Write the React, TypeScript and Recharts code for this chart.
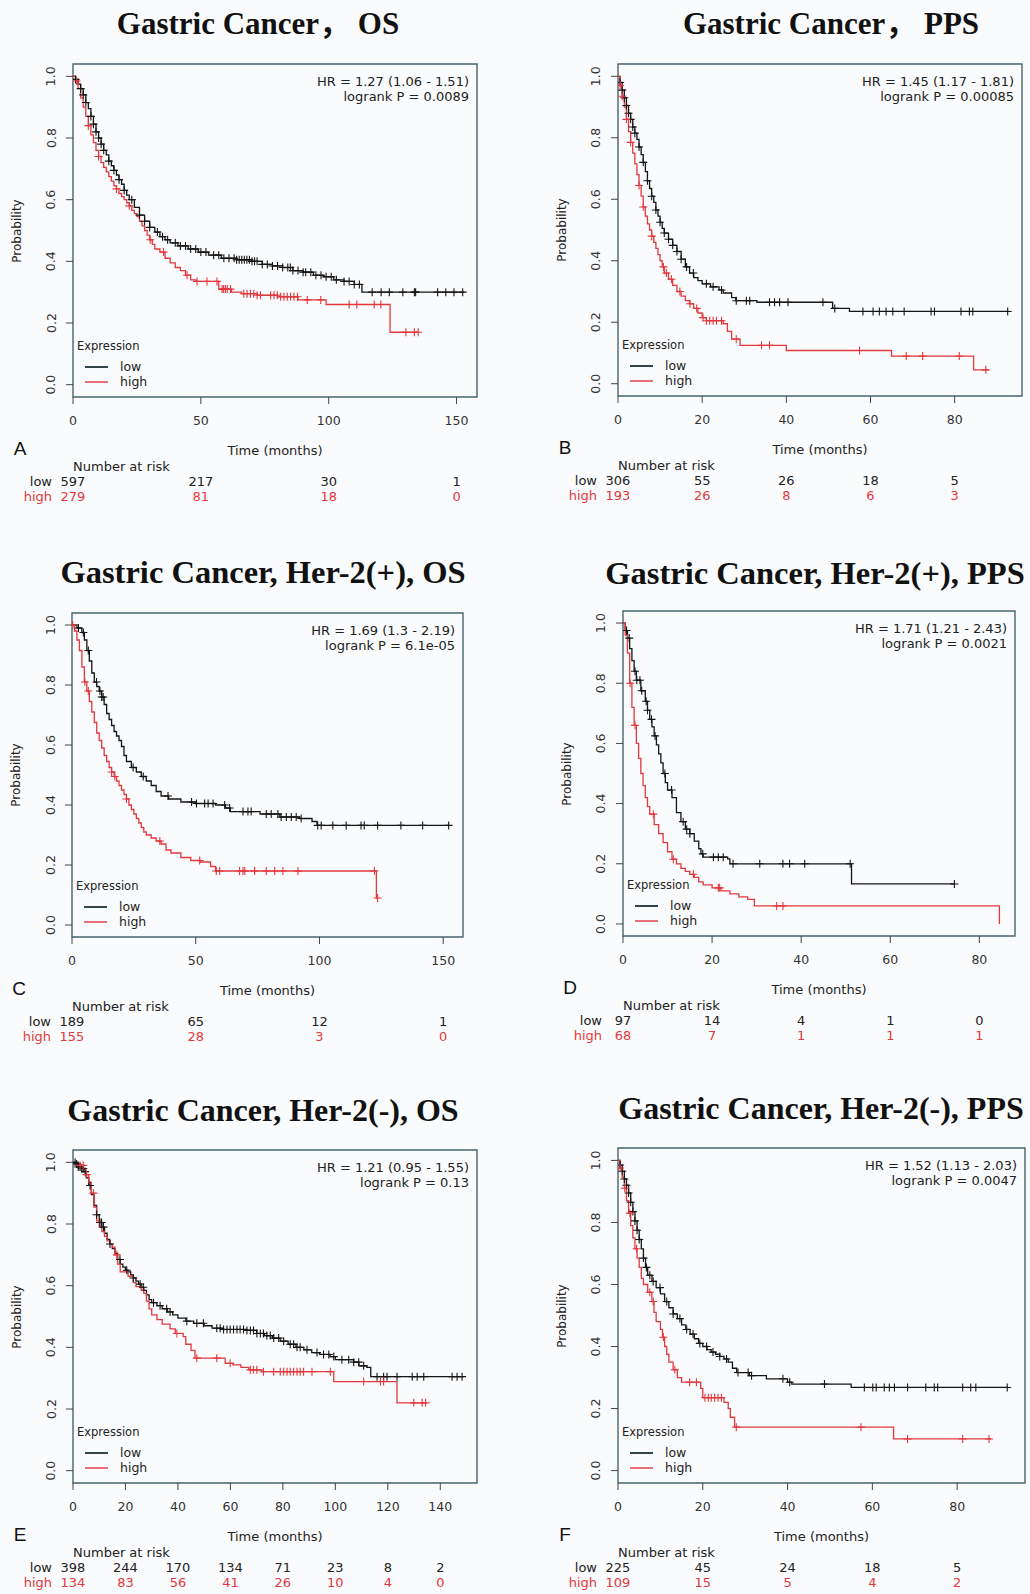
import React from 'react';
import { ComposedChart, Line, XAxis, YAxis, ReferenceArea } from 'recharts';

type Pair = [number, number];

const FONT = "'DejaVu Sans', sans-serif";
const TITLE_FONT = "'Liberation Serif', 'Noto Sans CJK SC', 'Times New Roman', serif";
const RED = '#e2383e';
const BLACK = '#151515';
const BOX = '#46646e';
const Y_TICKS = [0, 0.2, 0.4, 0.6, 0.8, 1.0];
const Y_DOMAIN: [number, number] = [-0.04, 1.04];

// ---- A: Gastric Cancer, OS
const aTicks = [0, 50, 100, 150];
const aRiskLow = [597, 217, 30, 1];
const aRiskHigh = [279, 81, 18, 0];
const aLow: Pair[] = [[0,1],[1,0.99],[2,0.975],[3,0.96],[4,0.94],[5,0.915],[6,0.895],[7,0.87],[8,0.845],[9,0.82],[10,0.8],[11,0.78],[12,0.76],[13,0.745],[14,0.725],[15,0.71],[16,0.695],[17,0.68],[18,0.665],[19,0.65],[20,0.63],[21,0.615],[22,0.6],[24,0.575],[26,0.55],[28,0.53],[30,0.51],[32,0.495],[34,0.48],[36,0.47],[38,0.46],[41,0.45],[45,0.44],[49,0.43],[53,0.42],[58,0.41],[64,0.405],[70,0.4],[74,0.39],[78,0.385],[82,0.38],[86,0.37],[90,0.365],[94,0.355],[98,0.35],[102,0.34],[106,0.335],[110,0.325],[113,0.3],[153,0.3]];
const aHigh: Pair[] = [[0,1],[1,0.985],[2,0.96],[3,0.93],[4,0.9],[5,0.87],[6,0.84],[7,0.81],[8,0.785],[9,0.76],[10,0.74],[11,0.72],[12,0.705],[13,0.69],[14,0.675],[15,0.66],[16,0.645],[17,0.635],[18,0.62],[19,0.61],[20,0.6],[21,0.59],[22,0.58],[23,0.565],[24,0.555],[25,0.545],[26,0.53],[27,0.515],[28,0.5],[29,0.485],[30,0.47],[31,0.455],[32,0.44],[34,0.43],[36,0.41],[38,0.395],[40,0.38],[42,0.37],[44,0.355],[46,0.34],[48,0.335],[57,0.31],[62,0.3],[66,0.295],[72,0.29],[80,0.285],[88,0.275],[99,0.26],[124,0.17],[135,0.17]];
const aLowCens = [1,3,4,5,7,8,9,10,11,12,14,16,18,20,23,26,28,30,33,35,37,40,42,44,46,48,50,52,55,57,59,61,63,64,65,66,67,68,69,70,71,72,74,76,78,80,82,84,85,86,88,90,91,93,95,97,99,101,103,106,108,110,112,117,120.5,123.7,129,133.5,134,142.6,145.8,149,152.4];
const aHighCens = [1.4,6,10,17,22,30.2,35.4,44.6,48.5,52.4,56.3,58.3,58.9,59.6,60.3,61.6,66.8,68.1,69.4,70.7,72,73.3,77.3,78.6,79.9,81.2,82.5,83.8,85.1,86.4,87.8,91.6,96.9,108,111,117.8,120.4,130.2,133.5,135];

// ---- B: Gastric Cancer, PPS
const bTicks = [0, 20, 40, 60, 80];
const bRiskLow = [306, 55, 26, 18, 5];
const bRiskHigh = [193, 26, 8, 6, 3];
const bLow: Pair[] = [[0,1],[0.5,0.98],[1,0.955],[1.5,0.93],[2,0.905],[2.5,0.88],[3,0.86],[3.5,0.835],[4,0.815],[4.5,0.795],[5,0.77],[5.5,0.745],[6,0.72],[6.5,0.69],[7,0.66],[7.5,0.635],[8,0.61],[8.5,0.59],[9,0.565],[9.5,0.545],[10,0.525],[10.5,0.505],[11,0.49],[12,0.47],[13,0.45],[14,0.43],[15,0.405],[16,0.38],[17,0.36],[18,0.345],[19,0.335],[20,0.325],[22,0.315],[24,0.305],[25,0.295],[27,0.28],[28,0.27],[33,0.265],[51,0.245],[55,0.235],[93,0.235]];
const bHigh: Pair[] = [[0,1],[0.5,0.97],[1,0.935],[1.5,0.9],[2,0.86],[2.5,0.82],[3,0.785],[3.5,0.75],[4,0.715],[4.5,0.68],[5,0.645],[5.5,0.61],[6,0.575],[6.5,0.545],[7,0.52],[7.5,0.5],[8,0.48],[8.5,0.46],[9,0.44],[9.5,0.42],[10,0.4],[10.5,0.38],[11,0.36],[12,0.34],[13,0.32],[14,0.3],[15,0.285],[16,0.27],[17,0.26],[18,0.245],[19,0.23],[20,0.215],[21,0.205],[25,0.195],[26,0.17],[27,0.145],[29,0.125],[40,0.108],[65,0.09],[84.5,0.045],[88,0.045]];
const bLowCens = [0.5,1,1.5,2,2.5,3,3.5,4,5,6,7,8,9,10,11,12,13,14,15,16.3,17.9,21,22.6,24.6,28.1,30.5,31.3,36,37.2,38.4,40.4,48.7,51.5,58.2,60.6,62.1,63.7,65.3,68,74.4,75.2,81.5,83.5,84.3,92.6];
const bHighCens = [0.5,1,2,3,5,6,8,10.8,11.5,12.7,14.7,17.1,18.7,20.2,21,21.8,22.6,23.4,24.6,28.1,34.1,36,57.4,68.5,72.4,81.1,87.4];

// ---- C: Her-2(+), OS
const cTicks = [0, 50, 100, 150];
const cRiskLow = [189, 65, 12, 1];
const cRiskHigh = [155, 28, 3, 0];
const cLow: Pair[] = [[0,1],[2,0.99],[4,0.975],[5,0.95],[6,0.915],[7,0.88],[8,0.84],[9,0.81],[10,0.795],[11,0.78],[12,0.76],[13,0.735],[14,0.705],[15,0.685],[16,0.665],[17,0.645],[18,0.63],[19,0.615],[20,0.595],[21,0.565],[22,0.545],[24,0.525],[26,0.51],[28,0.495],[30,0.48],[32,0.465],[34,0.445],[36,0.43],[39,0.42],[44,0.41],[50,0.405],[58,0.4],[62,0.39],[64,0.378],[76,0.37],[84,0.36],[92,0.355],[97,0.345],[99,0.332],[152,0.332]];
const cHigh: Pair[] = [[0,1],[1,0.98],[2,0.95],[3,0.915],[4,0.86],[5,0.81],[6,0.78],[7,0.745],[8,0.71],[9,0.675],[10,0.64],[11,0.615],[12,0.59],[13,0.565],[14,0.545],[15,0.525],[16,0.51],[17,0.495],[18,0.48],[19,0.465],[20,0.45],[21,0.435],[22,0.42],[23,0.4],[24,0.385],[25,0.37],[26,0.355],[27,0.34],[28,0.325],[29,0.31],[30,0.3],[32,0.29],[34,0.28],[36,0.27],[38,0.25],[40,0.24],[44,0.225],[48,0.215],[52,0.21],[56,0.195],[58,0.18],[123,0.09],[123.5,0.09]];
const cLowCens = [2.6,4.6,6.6,9.9,11.3,12,12.6,24.7,28.8,38.8,48.3,50.3,53.6,55,57,61.7,63.7,69.1,71.1,72.4,78.5,80.5,83.2,84.5,86.6,88.6,90.6,92.6,99.3,100.7,105.4,110.8,116.8,118.1,123.5,132.9,141.7,152.2];
const cHighCens = [0.3,5.2,6.6,16,17.3,22,35.5,51.6,58.3,59.7,67.7,69.1,69.8,73.8,78.5,81.9,85.2,91.3,122.2,123.5];

// ---- D: Her-2(+), PPS
const dTicks = [0, 20, 40, 60, 80];
const dRiskLow = [97, 14, 4, 1, 0];
const dRiskHigh = [68, 7, 1, 1, 1];
const dLow: Pair[] = [[0,1],[0.5,0.975],[1,0.95],[1.5,0.915],[2,0.875],[2.5,0.84],[3,0.81],[4,0.775],[5,0.74],[5.5,0.71],[6,0.68],[6.5,0.655],[7,0.625],[7.5,0.595],[8,0.565],[8.5,0.535],[9,0.5],[9.5,0.47],[10,0.445],[11,0.42],[12,0.37],[13,0.34],[14,0.315],[15,0.3],[16,0.275],[17,0.25],[17.5,0.233],[18,0.222],[23.5,0.216],[24,0.2],[51.3,0.133],[74.4,0.133]];
const dHigh: Pair[] = [[0,1],[0.5,0.96],[1,0.9],[1.5,0.8],[2,0.72],[2.5,0.66],[3,0.6],[3.5,0.55],[4,0.5],[4.5,0.46],[5,0.42],[5.5,0.39],[6,0.365],[7,0.33],[8,0.3],[9,0.27],[10,0.24],[11,0.215],[12,0.2],[13,0.185],[14,0.175],[15,0.165],[16,0.155],[17,0.14],[18,0.13],[20,0.12],[22,0.11],[24,0.1],[26,0.09],[28,0.082],[29.5,0.06],[84.5,0]];
const dLowCens = [0.8,1.4,2.7,3.1,3.8,4.2,5.2,5.5,6.4,7.2,9.4,10.9,13.5,14.3,15,17.9,20.3,21.4,22.5,24.7,30.7,35.9,37.4,40.8,51,74.4];
const dHighCens = [1.6,2.7,6.8,11.3,15.8,21.4,21.7,34.5,35.9];

// ---- E: Her-2(-), OS
const eTicks = [0, 20, 40, 60, 80, 100, 120, 140];
const eRiskLow = [398, 244, 170, 134, 71, 23, 8, 2];
const eRiskHigh = [134, 83, 56, 41, 26, 10, 4, 0];
const eLow: Pair[] = [[0,1],[1,0.995],[2,0.985],[3,0.98],[4,0.97],[5,0.95],[6,0.925],[7,0.895],[8,0.86],[9,0.83],[10,0.805],[11,0.79],[12,0.77],[13,0.75],[14,0.735],[15,0.72],[16,0.705],[17,0.685],[18,0.67],[19,0.66],[20,0.65],[21,0.645],[22,0.635],[23,0.625],[24,0.615],[25,0.605],[26,0.595],[27,0.585],[28,0.57],[29,0.555],[30,0.545],[32,0.535],[34,0.525],[36,0.515],[38,0.505],[40,0.495],[43,0.485],[46,0.478],[50,0.47],[53,0.462],[57,0.458],[66,0.455],[70,0.445],[73,0.438],[76,0.43],[79,0.42],[82,0.41],[85,0.4],[88,0.392],[91,0.383],[94,0.377],[98,0.37],[100,0.36],[107,0.352],[109,0.34],[112,0.335],[113.5,0.305],[149,0.305]];
const eHigh: Pair[] = [[0,1],[2,0.99],[4,0.975],[5,0.96],[6,0.935],[7,0.9],[8,0.855],[9,0.81],[10,0.79],[11,0.775],[12,0.76],[13,0.745],[14,0.735],[15,0.725],[16,0.7],[17,0.67],[18,0.645],[21,0.63],[23,0.61],[24,0.597],[26,0.585],[27,0.575],[28,0.55],[29,0.525],[30,0.505],[32,0.49],[34,0.475],[37,0.46],[39,0.445],[42,0.435],[43,0.41],[45,0.39],[46.5,0.365],[58,0.348],[61,0.343],[64,0.335],[67,0.327],[72,0.321],[99.4,0.289],[123.5,0.22],[135,0.22]];
const eLowCens = [0.8,1.4,2,2.7,3.3,3.9,4.6,6.5,9,10.3,10.9,11.6,14.1,17.9,20.5,23,25.6,26.8,30.7,33.2,35.7,37,43.4,47.2,49.7,54.8,56.1,57.4,58.7,59.9,61.2,62.5,63.7,65,66.3,67.6,68.8,70.1,71.4,72.6,73.9,75.2,76.5,78.4,80.3,82.8,84.1,85.4,86.6,89.2,93,95.5,97.5,99.4,102.5,105.1,107,108.9,110.8,115.9,118.4,119.7,123.5,129.3,131.2,133.7,144.5,146.4,148.3];
const eHighCens = [2.7,3.9,5.2,7.8,16.7,39.6,47.2,54.8,59.9,67.6,68.8,70.1,72.6,76.5,79,80.3,81.6,82.8,84.1,85.4,86.6,87.9,91.1,98.1,110.8,117.2,118.4,129.9,133.1,134.4];

// ---- F: Her-2(-), PPS
const fTicks = [0, 20, 40, 60, 80];
const fRiskLow = [225, 45, 24, 18, 5];
const fRiskHigh = [109, 15, 5, 4, 2];
const fLow: Pair[] = [[0,1],[0.5,0.985],[1,0.965],[1.5,0.94],[2,0.92],[2.5,0.895],[3,0.865],[3.5,0.835],[4,0.805],[4.5,0.775],[5,0.745],[5.5,0.715],[6,0.685],[6.5,0.655],[7,0.63],[8,0.61],[9,0.59],[10,0.57],[11,0.545],[12,0.525],[13,0.505],[14,0.49],[15,0.47],[16,0.455],[17,0.44],[18,0.425],[19,0.41],[20,0.4],[21,0.39],[22,0.382],[23,0.375],[24,0.368],[25,0.36],[26,0.35],[27,0.33],[28,0.316],[31,0.306],[35,0.296],[40,0.285],[41,0.279],[55,0.268],[92,0.268]];
const fHigh: Pair[] = [[0,1],[0.5,0.975],[1,0.945],[1.5,0.91],[2,0.87],[2.5,0.83],[3,0.79],[3.5,0.75],[4,0.715],[4.5,0.685],[5,0.655],[5.5,0.62],[6,0.6],[7,0.575],[8,0.545],[8.5,0.51],[9,0.48],[10,0.455],[10.5,0.43],[11,0.4],[11.5,0.375],[12,0.35],[13,0.325],[14,0.3],[15,0.285],[19.5,0.265],[20,0.235],[25,0.22],[26,0.2],[26.5,0.172],[27.5,0.14],[65,0.102],[88,0.102]];
const fLowCens = [0.5,1,1.5,2,2.5,3,3.5,4,4.5,5,6,6.7,7.5,8.3,9.9,11.5,13,14.6,16.2,17.7,19.3,20.9,22.4,24,25.6,28.3,30.7,31.5,38.9,40.5,48.7,58.1,60.1,60.9,62.8,64,65.2,68.3,72.6,74.6,75.4,81.3,83.2,84.4,91.8];
const fHighCens = [0.5,1.6,2.8,4.4,7.5,8.3,10.7,13.4,16.9,18.5,20.5,21.3,22,22.8,23.6,24.4,27.9,57.3,68.3,81.3,87.5];

const toPts = (arr: Pair[]) => arr.map(([t, s]) => ({ t, s }));
// a censored subject sits on the curve at its time
const stepAt = (steps: Pair[], t: number) => {
  let s = steps[0][1];
  for (const [st, sv] of steps) {
    if (st <= t) s = sv;
    else break;
  }
  return s;
};
const censPts = (times: number[], steps: Pair[]) => times.map((t) => ({ t, s: stepAt(steps, t) }));

interface PanelDef {
  letter: string;
  title: string;
  titleX: number;
  titleY: number;
  titleSize: number;
  hr: string;
  p: string;
  L: number; T: number; R: number; B: number;
  xMax: number;
  ticks: number[];
  riskLow: number[];
  riskHigh: number[];
  low: Pair[];
  high: Pair[];
  lowCens: number[];
  highCens: number[];
}

const panels: PanelDef[] = [
  { letter: 'A', title: 'Gastric Cancer， OS', titleX: 258, titleY: 23, titleSize: 31, hr: 'HR = 1.27 (1.06 - 1.51)', p: 'logrank P = 0.0089',
    L: 73, T: 64, R: 477, B: 397, xMax: 158, ticks: aTicks, riskLow: aRiskLow, riskHigh: aRiskHigh, low: aLow, high: aHigh, lowCens: aLowCens, highCens: aHighCens },
  { letter: 'B', title: 'Gastric Cancer， PPS', titleX: 831, titleY: 23, titleSize: 31, hr: 'HR = 1.45 (1.17 - 1.81)', p: 'logrank P = 0.00085',
    L: 618, T: 64, R: 1022, B: 396, xMax: 96, ticks: bTicks, riskLow: bRiskLow, riskHigh: bRiskHigh, low: bLow, high: bHigh, lowCens: bLowCens, highCens: bHighCens },
  { letter: 'C', title: 'Gastric Cancer, Her-2(+), OS', titleX: 263, titleY: 572, titleSize: 32.5, hr: 'HR = 1.69 (1.3 - 2.19)', p: 'logrank P = 6.1e-05',
    L: 72, T: 613, R: 463, B: 937, xMax: 158, ticks: cTicks, riskLow: cRiskLow, riskHigh: cRiskHigh, low: cLow, high: cHigh, lowCens: cLowCens, highCens: cHighCens },
  { letter: 'D', title: 'Gastric Cancer, Her-2(+), PPS', titleX: 815, titleY: 573, titleSize: 32.5, hr: 'HR = 1.71 (1.21 - 2.43)', p: 'logrank P = 0.0021',
    L: 623, T: 611, R: 1015, B: 936, xMax: 88, ticks: dTicks, riskLow: dRiskLow, riskHigh: dRiskHigh, low: dLow, high: dHigh, lowCens: dLowCens, highCens: dHighCens },
  { letter: 'E', title: 'Gastric Cancer, Her-2(-), OS', titleX: 263, titleY: 1110, titleSize: 32, hr: 'HR = 1.21 (0.95 - 1.55)', p: 'logrank P = 0.13',
    L: 73, T: 1150, R: 477, B: 1483, xMax: 154, ticks: eTicks, riskLow: eRiskLow, riskHigh: eRiskHigh, low: eLow, high: eHigh, lowCens: eLowCens, highCens: eHighCens },
  { letter: 'F', title: 'Gastric Cancer, Her-2(-), PPS', titleX: 821, titleY: 1108, titleSize: 32, hr: 'HR = 1.52 (1.13 - 2.03)', p: 'logrank P = 0.0047',
    L: 618, T: 1148, R: 1025, B: 1483, xMax: 96, ticks: fTicks, riskLow: fRiskLow, riskHigh: fRiskHigh, low: fLow, high: fHigh, lowCens: fLowCens, highCens: fHighCens },
];

const Txt = ({ x, y, anchor = 'middle', style, children }: any) => {
  const tx = anchor === 'middle' ? '-50%' : anchor === 'end' ? '-100%' : '0';
  return (
    <div
      style={{
        position: 'absolute', left: x, top: y, transform: `translate(${tx},-50%)`,
        whiteSpace: 'nowrap', lineHeight: 1, fontFamily: FONT, fontSize: 12.5, color: '#222', ...style,
      }}
    >
      {children}
    </div>
  );
};

const plusDot = (color: string) => (props: any) => {
  const { cx, cy, index } = props;
  if (cx == null || cy == null) return <g key={`n${index}`} />;
  return <path key={`c${index}`} d={`M${cx - 4},${cy}h8M${cx},${cy - 4}v8`} stroke={color} strokeWidth={1.1} fill="none" />;
};

const YTick = (props: any) => {
  const { x, y, payload } = props;
  return (
    <text x={x} y={y} transform={`rotate(-90 ${x} ${y})`} textAnchor="middle" dominantBaseline="central"
      fontFamily={FONT} fontSize={12.5} fill="#333">
      {Number(payload.value).toFixed(1)}
    </text>
  );
};

const makeXTick = (ticks: number[], riskLow: number[], riskHigh: number[]) => (props: any) => {
  const { x, y, payload } = props;
  const i = ticks.indexOf(payload.value);
  return (
    <g>
      <text x={x} y={y + 18.5} textAnchor="middle" fontFamily={FONT} fontSize={12.5} fill="#333">{payload.value}</text>
      <text x={x} y={y + 79.5} textAnchor="middle" fontFamily={FONT} fontSize={13} fill="#222">{riskLow[i]}</text>
      <text x={x} y={y + 94.5} textAnchor="middle" fontFamily={FONT} fontSize={13} fill={RED}>{riskHigh[i]}</text>
    </g>
  );
};

const YW = 40;
const XH = 110;
const MT = 2;
const MR = 2;

function Panel({ d }: { d: PanelDef }) {
  const w = d.R - d.L;
  const h = d.B - d.T;
  return (
    <>
      <Txt x={d.titleX} y={d.titleY}
        style={{ fontFamily: TITLE_FONT, fontWeight: 'bold', fontSize: d.titleSize, color: '#111' }}>
        {d.title}
      </Txt>
      <div style={{ position: 'absolute', left: d.L - YW, top: d.T - MT }}>
        <ComposedChart width={YW + w + MR} height={MT + h + XH} margin={{ top: MT, right: MR, left: 0, bottom: 0 }}>
          <XAxis type="number" dataKey="t" domain={[0, d.xMax]} ticks={d.ticks} allowDataOverflow interval={0}
            axisLine={false} tickLine={{ stroke: '#444' }} tickSize={7} tickMargin={2} height={XH}
            tick={makeXTick(d.ticks, d.riskLow, d.riskHigh)} />
          <YAxis type="number" domain={Y_DOMAIN} ticks={Y_TICKS} allowDataOverflow interval={0} width={YW}
            axisLine={false} tickLine={{ stroke: '#444' }} tickSize={7} tickMargin={15} tick={<YTick />} />
          <ReferenceArea x1={0} x2={d.xMax} y1={Y_DOMAIN[0]} y2={Y_DOMAIN[1]} fill="none" stroke={BOX} strokeWidth={1.4} ifOverflow="visible" />
          <Line data={toPts(d.low)} dataKey="s" type="stepAfter" stroke={BLACK} strokeWidth={1.3} dot={false} activeDot={false} isAnimationActive={false} />
          <Line data={toPts(d.high)} dataKey="s" type="stepAfter" stroke={RED} strokeWidth={1.3} dot={false} activeDot={false} isAnimationActive={false} />
          <Line data={censPts(d.lowCens, d.low)} dataKey="s" stroke="none" dot={plusDot(BLACK)} activeDot={false} isAnimationActive={false} />
          <Line data={censPts(d.highCens, d.high)} dataKey="s" stroke="none" dot={plusDot(RED)} activeDot={false} isAnimationActive={false} />
        </ComposedChart>
      </div>

      <Txt x={d.L - 56} y={(d.T + d.B) / 2} style={{ transform: 'translate(-50%,-50%) rotate(-90deg)', fontSize: 12 }}>Probability</Txt>

      <Txt x={d.R - 8} y={d.T + 17} anchor="end" style={{ fontSize: 13 }}>{d.hr}</Txt>
      <Txt x={d.R - 8} y={d.T + 32} anchor="end" style={{ fontSize: 13 }}>{d.p}</Txt>

      <Txt x={d.L + 4} y={d.B - 50} anchor="start" style={{ fontSize: 11.5 }}>Expression</Txt>
      <div style={{ position: 'absolute', left: d.L + 12, top: d.B - 31, width: 23, height: 1.5, background: '#33434a' }} />
      <div style={{ position: 'absolute', left: d.L + 12, top: d.B - 16, width: 23, height: 1.5, background: '#e8707a' }} />
      <Txt x={d.L + 47} y={d.B - 30} anchor="start">low</Txt>
      <Txt x={d.L + 47} y={d.B - 15} anchor="start">high</Txt>

      <Txt x={d.L - 53} y={d.B + 51} style={{ fontFamily: "'Liberation Sans', Arial, sans-serif", fontSize: 19, color: '#111' }}>{d.letter}</Txt>
      <Txt x={(d.L + d.R) / 2} y={d.B + 53} style={{ fontSize: 13 }}>Time (months)</Txt>
      <Txt x={d.L} y={d.B + 69} anchor="start" style={{ fontSize: 13 }}>Number at risk</Txt>
      <Txt x={d.L - 21} y={d.B + 84} anchor="end" style={{ fontSize: 13 }}>low</Txt>
      <Txt x={d.L - 21} y={d.B + 99} anchor="end" style={{ fontSize: 13, color: RED }}>high</Txt>
    </>
  );
}

export default function App() {
  return (
    <div style={{ position: 'relative', width: 1030, height: 1594, background: '#fafbfc', overflow: 'hidden' }}>
      <style>{'body{margin:0;background:#fafbfc}'}</style>
      {panels.map((d) => (
        <Panel key={d.letter} d={d} />
      ))}
    </div>
  );
}
